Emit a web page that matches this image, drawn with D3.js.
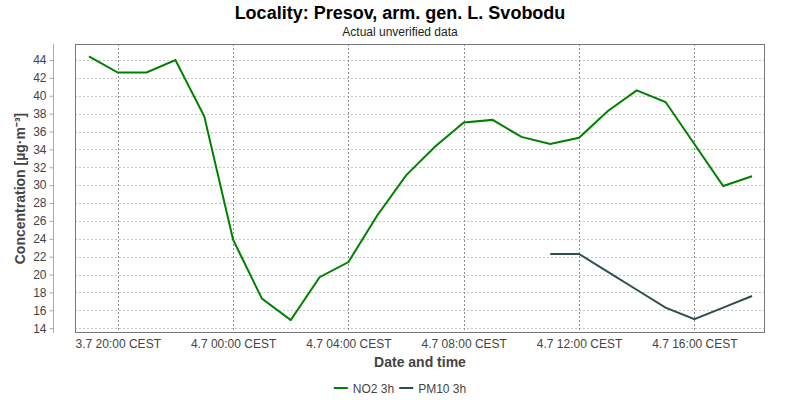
<!DOCTYPE html>
<html><head><meta charset="utf-8">
<script src="https://cdn.jsdelivr.net/npm/d3@7"></script>
<style>
html,body{margin:0;padding:0;background:#fff;}
svg{display:block;font-family:"Liberation Sans",Arial,sans-serif;}
</style></head>
<body><svg id="c" width="800" height="400"></svg>
<script>
// Data (hourly, 3h running averages)
const no2Times = ["3.7 19:00","3.7 20:00","3.7 21:00","3.7 22:00","3.7 23:00","4.7 00:00","4.7 01:00","4.7 02:00","4.7 03:00","4.7 04:00","4.7 05:00","4.7 06:00","4.7 07:00","4.7 08:00","4.7 09:00","4.7 10:00","4.7 11:00","4.7 12:00","4.7 13:00","4.7 14:00","4.7 15:00","4.7 16:00","4.7 17:00","4.7 18:00"];
const no2Values = [44.4,42.6,42.6,44.0,37.7,23.9,17.3,14.9,19.7,21.4,26.6,31.1,34.3,37.0,37.3,35.4,34.6,35.3,38.3,40.6,39.3,34.6,29.9,31.0];
const pm10Times = ["4.7 11:00","4.7 12:00","4.7 13:00","4.7 14:00","4.7 15:00","4.7 16:00","4.7 17:00","4.7 18:00"];
const pm10Values = [22.3,22.3,20.3,18.3,16.3,15.0,16.3,17.6];
const yTicks = [14,16,18,20,22,24,26,28,30,32,34,36,38,40,42,44];
const xTickTimes = ["3.7 20:00","4.7 00:00","4.7 04:00","4.7 08:00","4.7 12:00","4.7 16:00"];
const xDomainTimes = ["3.7 18:31","4.7 18:27"];
const yDomain = [13.46, 45.79];
const seriesNames = ["NO2 3h","PM10 3h"];
const seriesColors = ["#008000","#2f4f4f"];
const title = "Locality: Presov, arm. gen. L. Svobodu";
const subtitle = "Actual unverified data";
const yLabel = "Concentration [µg·m⁻³]";
const xLabel = "Date and time";

const parse = s => { const [d, t] = s.split(" "); const [day, mon] = d.split(".").map(Number); const [h, m] = t.split(":").map(Number); return new Date(2023, mon - 1, day, h, m); };
const fmt = d3.timeFormat("%-d.%-m %H:%M");

const svg = d3.select("#c");
const L = 75, R = 765, T = 44, B = 333;
const x = d3.scaleTime().domain(xDomainTimes.map(parse)).range([L, R]);
const y = d3.scaleLinear().domain(yDomain).range([B, T]);

// titles
svg.append("text").attr("x", 400).attr("y", 19).attr("text-anchor", "middle")
  .attr("font-size", 18).attr("font-weight", "bold").attr("fill", "#000").text(title);
svg.append("text").attr("x", 400).attr("y", 36).attr("text-anchor", "middle")
  .attr("font-size", 12).attr("fill", "#222").text(subtitle);

// gridlines
const g = svg.append("g");
g.selectAll(".hg").data(yTicks).join("line")
  .attr("x1", L).attr("x2", R).attr("y1", d => Math.round(y(d)) + 0.5).attr("y2", d => Math.round(y(d)) + 0.5)
  .attr("stroke", "#c4c4c4").attr("stroke-dasharray", "2,2");
g.selectAll(".vg").data(xTickTimes.map(parse)).join("line")
  .attr("y1", T).attr("y2", B).attr("x1", d => Math.round(x(d)) + 0.5).attr("x2", d => Math.round(x(d)) + 0.5)
  .attr("stroke", "#8c8c8c").attr("stroke-dasharray", "2,2");

// y axis (offset)
const yAxis = d3.axisLeft(y).tickValues(yTicks).tickSize(4).tickPadding(3);
const ya = svg.append("g").attr("transform", "translate(53.5,0)").call(yAxis);
ya.select(".domain").attr("stroke", "#aaa").attr("d", `M0,${T}V${B}`);
ya.selectAll(".tick line").attr("stroke", "#aaa");
ya.selectAll("text").attr("font-size", 12).attr("fill", "#444").attr("font-family", "Liberation Sans, Arial, sans-serif");

// x axis labels
const xAxis = d3.axisBottom(x).tickValues(xTickTimes.map(parse)).tickSize(0).tickPadding(5).tickFormat(d => fmt(d) + " CEST");
const xa = svg.append("g").attr("transform", `translate(0,${B + 1})`).call(xAxis);
xa.select(".domain").remove();
xa.selectAll("text").attr("font-size", 12).attr("fill", "#444").attr("font-family", "Liberation Sans, Arial, sans-serif");

// plot border
svg.append("rect").attr("x", L + 0.5).attr("y", T + 0.5).attr("width", R - L - 1).attr("height", B - T - 1)
  .attr("fill", "none").attr("stroke", "#777");

// lines
const line = d3.line().x(d => x(d[0])).y(d => y(d[1]));
const series = [
  no2Times.map((t, i) => [parse(t), no2Values[i]]),
  pm10Times.map((t, i) => [parse(t), pm10Values[i]])
];
svg.selectAll(".ser").data(series).join("path")
  .attr("d", line).attr("fill", "none").attr("stroke", (d, i) => seriesColors[i]).attr("stroke-width", 2)
  .attr("stroke-linejoin", "miter");

// axis labels
svg.append("text").attr("transform", `translate(25,${(T + B) / 2}) rotate(-90)`).attr("text-anchor", "middle")
  .attr("font-size", 14).attr("font-weight", "bold").attr("fill", "#444").text(yLabel);
svg.append("text").attr("x", (L + R) / 2).attr("y", 367).attr("text-anchor", "middle")
  .attr("font-size", 14).attr("font-weight", "bold").attr("fill", "#444").text(xLabel);

// legend
const lg = svg.append("g").attr("font-size", 12);
const items = lg.selectAll("g").data(seriesNames).join("g");
items.append("line").attr("x1", 0).attr("x2", 14).attr("y1", 0).attr("y2", 0)
  .attr("stroke", (d, i) => seriesColors[i]).attr("stroke-width", 2);
items.append("text").attr("x", 19).attr("y", 4.5).attr("fill", "#444").text(d => d);
let off = 0; const xs = [];
items.each(function () { xs.push(off); off += this.getBBox().width + 5; });
const total = off - 5;
items.attr("transform", (d, i) => `translate(${400 - total / 2 + xs[i]},388)`);
</script></body></html>
